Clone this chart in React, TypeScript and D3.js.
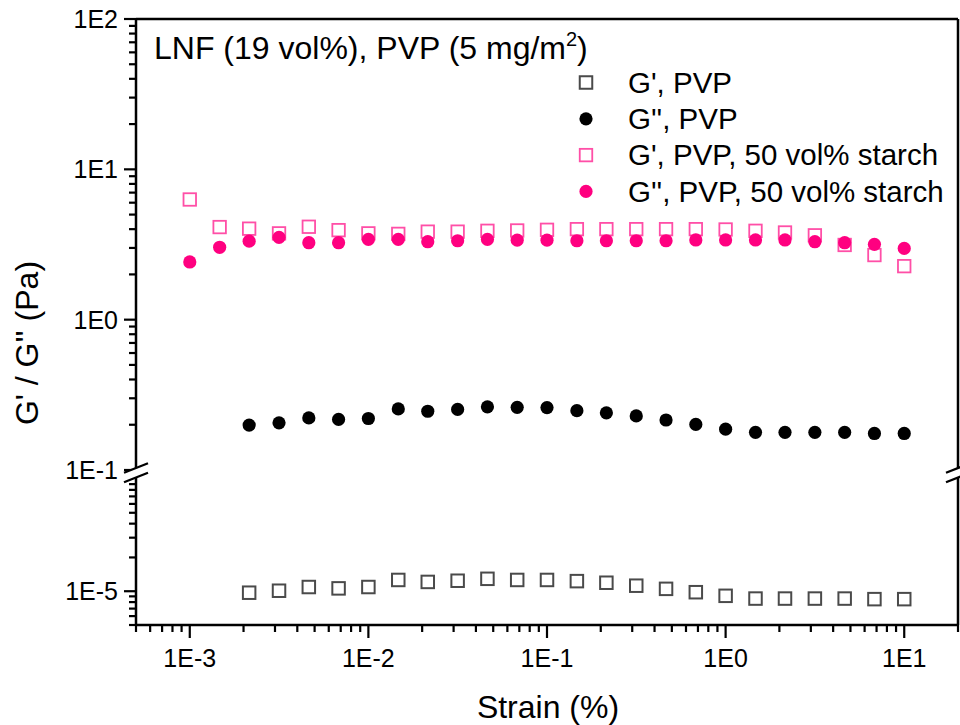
import React from "react";
import * as d3 from "d3";

const strain = [0.001, 0.00147, 0.00215, 0.00316, 0.00464, 0.00681, 0.01, 0.0147, 0.0215, 0.0316, 0.0464, 0.0681, 0.1, 0.147, 0.215, 0.316, 0.464, 0.681, 1, 1.47, 2.15, 3.16, 4.64, 6.81, 10];

const gpPVP: (number | null)[] = [null, null, 9.7e-6, 1.01e-5, 1.09e-5, 1.06e-5, 1.09e-5, 1.26e-5, 1.21e-5, 1.24e-5, 1.29e-5, 1.26e-5, 1.26e-5, 1.23e-5, 1.19e-5, 1.12e-5, 1.05e-5, 9.8e-6, 9.1e-6, 8.6e-6, 8.6e-6, 8.6e-6, 8.6e-6, 8.5e-6, 8.5e-6];
const gppPVP: (number | null)[] = [null, null, 0.199, 0.206, 0.222, 0.217, 0.22, 0.255, 0.246, 0.253, 0.263, 0.261, 0.26, 0.248, 0.24, 0.229, 0.215, 0.201, 0.187, 0.178, 0.178, 0.178, 0.178, 0.175, 0.175];
const gpStarch = [6.3, 4.13, 4.03, 3.75, 4.15, 3.94, 3.75, 3.72, 3.85, 3.85, 3.9, 3.92, 3.96, 4.0, 4.0, 4.0, 4.0, 4.0, 3.98, 3.9, 3.8, 3.64, 3.14, 2.69, 2.27];
const gppStarch = [2.42, 3.03, 3.33, 3.53, 3.25, 3.25, 3.42, 3.42, 3.3, 3.35, 3.42, 3.38, 3.38, 3.35, 3.35, 3.35, 3.35, 3.39, 3.39, 3.39, 3.39, 3.3, 3.25, 3.17, 2.98];

const xTickLabels = ["1E-3", "1E-2", "1E-1", "1E0", "1E1"];
const xTickValues = [1e-3, 1e-2, 1e-1, 1, 10];
const yUpperLabels = ["1E-1", "1E0", "1E1", "1E2"];
const yUpperValues = [0.1, 1, 10, 100];
const yLowerLabels = ["1E-5"];
const yLowerValues = [1e-5];

const legendLabels = ["G', PVP", "G'', PVP", "G', PVP, 50 vol% starch", "G'', PVP, 50 vol% starch"];

const PINK = "#ff0080";
const PINK_LIGHT = "#ff4fa7";
const GRAY = "#4a4a4a";
const FONT = "'Liberation Sans', Arial, sans-serif";

const L = 136, R = 958, T = 19, B = 625;
const UPPER_BOTTOM = 470;
const LOWER_TOP = 479;

export default function App() {
  const x = d3.scaleLog().domain([5e-4, 20]).range([L, R]);
  const yUp = d3.scaleLog().domain([0.1, 100]).range([UPPER_BOTTOM, T]);
  const yLo = d3.scaleLog().domain([5e-6, 1e-4]).range([B, LOWER_TOP]);
  const y = (v: number) => (v >= 0.1 ? yUp(v) : yLo(v));

  const xMinor: number[] = [];
  for (let e = -4; e <= 1; e++) {
    for (let m = 2; m <= 9; m++) {
      const v = m * Math.pow(10, e);
      if (v >= 5e-4 * 0.999 && v <= 20 * 1.001) xMinor.push(v);
    }
  }
  const yUpMinor: number[] = [];
  for (let e = -1; e <= 1; e++) for (let m = 2; m <= 9; m++) yUpMinor.push(m * Math.pow(10, e));
  const yLoMinor: number[] = [];
  for (let e = -6; e <= -5; e++) for (let m = 2; m <= 9; m++) {
    const v = m * Math.pow(10, e);
    if (v >= 5e-6 * 0.999 && v < 1e-4) yLoMinor.push(v);
  }

  const sq = 12.5;
  const rad = 6.6;
  const square = (cx: number, cy: number, color: string, key: string, sw = 1.8) => (
    <rect key={key} x={cx - sq / 2} y={cy - sq / 2} width={sq} height={sq} fill="none" stroke={color} strokeWidth={sw} />
  );

  const axisW = 2.5;
  const brk = (ax: number, key: string) => {
    const dx = 12;
    const s = -0.4;
    const y1 = 468, y2 = 477.5;
    return (
      <g key={key}>
        <polygon
          points={`${ax - dx},${y1 - s * dx} ${ax + dx},${y1 + s * dx} ${ax + dx},${y2 + s * dx} ${ax - dx},${y2 - s * dx}`}
          fill="white"
        />
        <line x1={ax - dx} y1={y1 - s * dx} x2={ax + dx} y2={y1 + s * dx} stroke="black" strokeWidth={2.2} />
        <line x1={ax - dx} y1={y2 - s * dx} x2={ax + dx} y2={y2 + s * dx} stroke="black" strokeWidth={2.2} />
      </g>
    );
  };

  const legendY = (i: number) => 82.5 + i * 36.3;

  return (
    <div style={{ position: "absolute", left: 0, top: 0 }}>
      <svg width={960} height={725} style={{ display: "block", fontFamily: FONT }}>
        <rect x={0} y={0} width={960} height={725} fill="white" />

        {gpStarch.map((v, i) => square(x(strain[i]), y(v), PINK_LIGHT, "ps" + i))}
        {gppStarch.map((v, i) => (
          <circle key={"pc" + i} cx={x(strain[i])} cy={y(v)} r={rad} fill={PINK} />
        ))}
        {gppPVP.map((v, i) =>
          v == null ? null : <circle key={"bc" + i} cx={x(strain[i])} cy={y(v)} r={rad} fill="black" />
        )}
        {gpPVP.map((v, i) => (v == null ? null : square(x(strain[i]), y(v), GRAY, "bs" + i, 2)))}

        <line x1={L} y1={T} x2={R} y2={T} stroke="black" strokeWidth={axisW} />
        <line x1={L} y1={B} x2={R} y2={B} stroke="black" strokeWidth={axisW} />
        <line x1={L} y1={T} x2={L} y2={B} stroke="black" strokeWidth={axisW} />
        <line x1={R} y1={T} x2={R} y2={B} stroke="black" strokeWidth={axisW} />

        {yUpperValues.map((v, i) => (
          <g key={"yu" + i}>
            <line x1={L - 12} x2={L} y1={yUp(v)} y2={yUp(v)} stroke="black" strokeWidth={2.2} />
            <text x={118} y={yUp(v)} dy="0.36em" textAnchor="end" fontSize={25}>{yUpperLabels[i]}</text>
          </g>
        ))}
        {yUpMinor.map((v, i) => (
          <line key={"yum" + i} x1={L - 7} x2={L} y1={yUp(v)} y2={yUp(v)} stroke="black" strokeWidth={2.2} />
        ))}
        {yLowerValues.map((v, i) => (
          <g key={"yl" + i}>
            <line x1={L - 12} x2={L} y1={yLo(v)} y2={yLo(v)} stroke="black" strokeWidth={2.2} />
            <text x={118} y={yLo(v)} dy="0.36em" textAnchor="end" fontSize={25}>{yLowerLabels[i]}</text>
          </g>
        ))}
        {yLoMinor.map((v, i) => (
          <line key={"ylm" + i} x1={L - 7} x2={L} y1={yLo(v)} y2={yLo(v)} stroke="black" strokeWidth={2.2} />
        ))}

        {xTickValues.map((v, i) => (
          <g key={"xt" + i}>
            <line x1={x(v)} x2={x(v)} y1={B} y2={B + 13} stroke="black" strokeWidth={2.2} />
            <text x={x(v)} y={667} textAnchor="middle" fontSize={25}>{xTickLabels[i]}</text>
          </g>
        ))}
        {xMinor.map((v, i) => (
          <line key={"xm" + i} x1={x(v)} x2={x(v)} y1={B} y2={B + 7} stroke="black" strokeWidth={2.2} />
        ))}

        {brk(L, "bl")}
        {brk(R, "br")}

        <text x={548} y={718} textAnchor="middle" fontSize={32}>Strain (%)</text>
        <text transform="translate(38,343) rotate(-90)" textAnchor="middle" fontSize={32}>G' / G'' (Pa)</text>

        <text x={154} y={59} fontSize={32}>
          LNF (19 vol%), PVP (5 mg/m<tspan dy={-13} fontSize={20}>2</tspan><tspan dy={13}>)</tspan>
        </text>

        {legendLabels.map((lab, i) => {
          const cy = legendY(i);
          const mk =
            i === 0 ? square(586, cy, GRAY, "lm" + i, 2) :
            i === 1 ? <circle key={"lm" + i} cx={586} cy={cy} r={rad} fill="black" /> :
            i === 2 ? square(586, cy, PINK_LIGHT, "lm" + i) :
            <circle key={"lm" + i} cx={586} cy={cy} r={rad} fill={PINK} />;
          return (
            <g key={"lg" + i}>
              {mk}
              <text x={628} y={cy + 10.3} fontSize={29.5}>{lab}</text>
            </g>
          );
        })}
      </svg>
    </div>
  );
}
